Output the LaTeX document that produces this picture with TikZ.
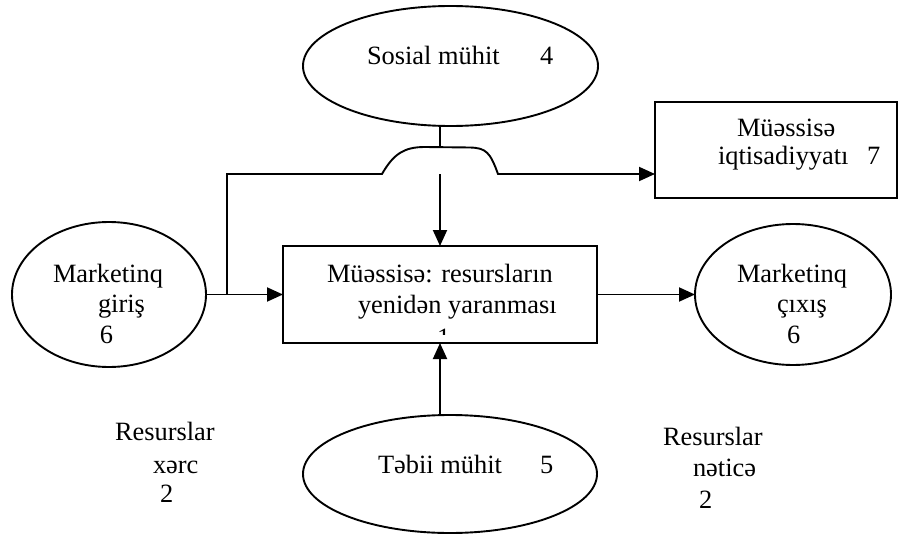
\documentclass[tikz,border=0pt]{standalone}
\usepackage{fontspec}
\setmainfont{Liberation Serif}
\usetikzlibrary{arrows.meta,shapes.geometric}

\begin{document}
\begin{tikzpicture}[x=0.5pt,y=-0.5pt,line width=0.95pt,
  every node/.style={outer sep=0pt},
  oval/.style={draw,ellipse,inner sep=0pt},
  block/.style={draw,rectangle,inner sep=0pt},
  txt/.style={inner sep=0pt,anchor=base west,align=left,font=\fontsize{13.2pt}{15.25pt}\selectfont},
  arr/.style={-{Triangle[length=8pt,width=7pt]}}]
\useasboundingbox (0,0) rectangle (899,535);

% shapes
\node[oval,minimum width=147.5pt,minimum height=60pt] (soc) at (450.5,66) {};
\node[oval,minimum width=147pt,minimum height=59pt] (nat) at (450,474) {};
\node[oval,minimum width=97pt,minimum height=72.5pt] (min) at (109,294.5) {};
\node[oval,minimum width=98pt,minimum height=70.5pt] (mout) at (793,294.5) {};
\node[block,minimum width=157pt,minimum height=48.5pt] (firm) at (440,294.5) {};
\node[block,minimum width=121pt,minimum height=48pt] (econ) at (776,150) {};

% texts (base = last line)
\node[txt] (soc_t) at (367,65) {\makebox[86.5pt][l]{Sosial mühit}4};
\node[txt] (nat_t) at (378,473) {\makebox[81pt][l]{Təbii mühit}5};
\node[txt] (min_t) at (53,343) {Marketinq\\\hspace*{22.5pt}giriş\\\hspace*{23.5pt}6};
\node[txt] (mout_t) at (737,343) {Marketinq\\\hspace*{20pt}çıxış\\\hspace*{25pt}6};
\node[txt] (firm_t) at (327,313) {Müəssisə: resursların\\\hspace*{15.5pt}yenidən yaranması};
\node[txt,font=\fontsize{13.2pt}{14pt}\selectfont] (econ_t) at (718,164)
  {\hspace*{9.5pt}Müəssisə\\\makebox[74.5pt][l]{iqtisadiyyatı}7};
\node[txt] (cost_t) at (115,502) {Resurslar\\[1.25pt]\hspace*{19pt}xərc\\[-0.75pt]\hspace*{22.5pt}2};
\node[txt,font=\fontsize{13.2pt}{15.75pt}\selectfont] (res_t) at (663,508)
  {Resurslar\\\hspace*{15pt}nəticə\\\hspace*{18pt}2};
\begin{scope}
  \clip (283,246) rectangle (597,334);
  \node[txt] (firm_n) at (437,346) {1};
\end{scope}

% connectors
\coordinate (split) at (227,174);
\coordinate (hop) at (440,147);
\draw[arr] (min) -- (firm);
\draw[arr] (firm) -- (mout);
\draw[arr] (nat.north -| firm) -- (firm);
\draw (soc.south -| hop) -- (hop);
\draw[arr] (hop |- split) -- (firm);
\draw[arr] (min.east -| split) -- (split) -- (382,174)
  .. controls (394,153) and (405,147) .. (425,147) -- (470,147.5)
  .. controls (486,148) and (490,152) .. (498,174) -- (econ.west |- split);
\end{tikzpicture}
\end{document}
